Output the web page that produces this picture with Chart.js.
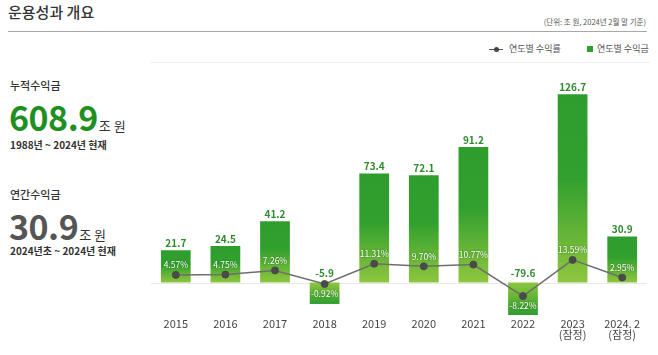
<!DOCTYPE html>
<html><head><meta charset="utf-8">
<script src="https://cdn.jsdelivr.net/npm/chart.js@4"></script>
<style>
html,body{margin:0;padding:0;background:#fff;}
body{width:658px;height:355px;position:relative;overflow:hidden;font-family:'Noto Sans CJK KR','Noto Sans',sans-serif;color:#333;}
.t{position:absolute;white-space:nowrap;line-height:1;}
canvas{position:absolute;left:0;top:0;}
</style></head><body>
<div class="t" style="left:8px;top:4px;font-size:15px;font-weight:500;color:#333;">운용성과 개요</div>
<div class="t" style="right:12px;top:18px;font-size:7.5px;color:#555;">(단위: 조 원, 2024년 2월 말 기준)</div>
<div style="position:absolute;left:8px;top:31px;width:639px;height:1px;background:#a8a8a8;"></div>
<div style="position:absolute;left:150px;top:62px;width:500px;height:1px;background:#eeeeee;"></div>
<div style="position:absolute;left:489px;top:48.5px;width:14px;height:1px;background:#555;"></div>
<div style="position:absolute;left:493.5px;top:46.5px;width:5px;height:5px;border-radius:50%;background:#444;"></div>
<div class="t" style="left:509px;top:44px;font-size:9px;color:#555;">연도별 수익률</div>
<div style="position:absolute;left:587px;top:46px;width:6px;height:6px;background:#2f9f2f;"></div>
<div class="t" style="left:597px;top:44px;font-size:9px;color:#555;">연도별 수익금</div>

<div class="t" style="left:10px;top:80px;font-size:11px;font-weight:500;color:#333;">누적수익금</div>
<div class="t" style="left:9px;top:100px;line-height:34px;height:34px;"><span style="font-size:34px;font-weight:700;color:#1f8f1f;letter-spacing:-0.5px;">608.9</span><span style="font-size:13px;color:#333;margin-left:1px;">조 원</span></div>
<div class="t" style="left:10px;top:140px;font-size:10px;font-weight:700;color:#333;">1988년 ~ 2024년 현재</div>

<div class="t" style="left:10px;top:189px;font-size:11px;font-weight:500;color:#333;">연간수익금</div>
<div class="t" style="left:9px;top:209px;line-height:34px;height:34px;"><span style="font-size:34px;font-weight:700;color:#555;letter-spacing:-0.5px;">30.9</span><span style="font-size:13px;color:#333;margin-left:1px;">조 원</span></div>
<div class="t" style="left:10px;top:246px;font-size:10px;font-weight:700;color:#333;">2024년초 ~ 2024년 현재</div>

<canvas id="c" width="658" height="355"></canvas>
<script>
const years = ['2015','2016','2017','2018','2019','2020','2021','2022',['2023','(잠정)'],['2024. 2','(잠정)']];
const profits = [21.7, 24.5, 41.2, -5.9, 73.4, 72.1, 91.2, -79.6, 126.7, 30.9];
const rates = [4.57, 4.75, 7.26, -0.92, 11.31, 9.70, 10.77, -8.22, 13.59, 2.95];

const NEG_DEPTH = 32.5, NEG_BASE = 14, NEG_LOG = 4.2;
const FONT = "'Noto Sans CJK KR','Noto Sans',sans-serif";

class BrokenScale extends Chart.LinearScale {
  getPixelForValue(value) {
    const zero = this.bottom - NEG_DEPTH;
    if (value >= 0) return zero - (value / this.max) * (zero - this.top);
    const d = NEG_BASE + NEG_LOG * Math.log(Math.max(1, -value));
    return zero + Math.min(d, NEG_DEPTH);
  }
}
BrokenScale.id = 'broken';
BrokenScale.defaults = Chart.LinearScale.defaults;
Chart.register(BrokenScale);

const DARK = '#2e9d2e', LIGHT = '#8fc63e';
function barColor(ctx) {
  const chart = ctx.chart;
  if (!chart.chartArea || !chart.scales.y) return DARK;
  const ys = chart.scales.y;
  const v = profits[ctx.dataIndex];
  const zero = ys.getPixelForValue(0);
  const end = ys.getPixelForValue(v);
  const g = chart.ctx.createLinearGradient(0, end, 0, zero);
  if (v >= 0) {
    g.addColorStop(0, DARK); g.addColorStop(0.45, '#32a02e'); g.addColorStop(1, LIGHT);
  } else {
    g.addColorStop(0, DARK); g.addColorStop(1, LIGHT);
  }
  return g;
}

const labelPlugin = {
  id: 'labels',
  beforeDatasetsDraw(chart) {
    const c = chart.ctx, a = chart.chartArea;
    const zero = chart.scales.y.getPixelForValue(0);
    c.save(); c.strokeStyle = '#e8e8e8'; c.lineWidth = 1;
    c.beginPath(); c.moveTo(a.left, Math.round(zero) + 0.5); c.lineTo(a.right, Math.round(zero) + 0.5); c.stroke();
    c.restore();
  },
  afterDatasetsDraw(chart) {
    const c = chart.ctx;
    const zero = chart.scales.y.getPixelForValue(0);
    const lineMeta = chart.getDatasetMeta(0), barMeta = chart.getDatasetMeta(1);
    c.save();
    c.textAlign = 'center'; c.textBaseline = 'middle';
    c.font = 'bold 10px ' + FONT; c.fillStyle = '#2e8b2e';
    barMeta.data.forEach((el, i) => {
      const v = profits[i];
      const y = v >= 0 ? el.y - 7 : zero - 9;
      c.fillText(v.toFixed(1), el.x, y);
    });
    c.font = '8.5px ' + FONT; c.fillStyle = '#ffffff';
    c.shadowColor = 'rgba(0,70,0,0.7)'; c.shadowBlur = 2;
    lineMeta.data.forEach((el, i) => {
      const v = rates[i];
      const y = v >= 0 ? el.y - 10 : el.y + 10;
      c.fillText(v.toFixed(2) + '%', el.x, y);
    });
    c.restore();
  }
};

new Chart(document.getElementById('c'), {
  type: 'bar',
  data: {
    labels: years,
    datasets: [
      { type: 'line', label: '연도별 수익률', data: rates, yAxisID: 'y2', order: 0,
        borderColor: '#6e6e6e', borderWidth: 1.5, tension: 0,
        pointRadius: 3.5, pointBackgroundColor: '#4a4a4a', pointBorderColor: '#4a4a4a', pointBorderWidth: 1 },
      { type: 'bar', label: '연도별 수익금', data: profits, yAxisID: 'y', order: 1,
        backgroundColor: barColor, categoryPercentage: 1, barPercentage: 0.6, borderWidth: 0 }
    ]
  },
  options: {
    responsive: false, animation: false, devicePixelRatio: 1,
    layout: { padding: { left: 151, right: 11, top: 70, bottom: 12 } },
    plugins: { legend: { display: false }, tooltip: { enabled: false } },
    scales: {
      x: { grid: { display: false, drawTicks: false }, border: { display: false },
           ticks: { color: '#444', padding: 3, maxRotation: 0, autoSkip: false,
                    font: { size: 11, family: FONT, lineHeight: 1 } } },
      y: { type: 'broken', display: false, min: -80, max: 143 },
      y2: { type: 'linear', display: false, min: -19.6, max: 128 }
    }
  },
  plugins: [labelPlugin]
});
</script>
</body></html>
